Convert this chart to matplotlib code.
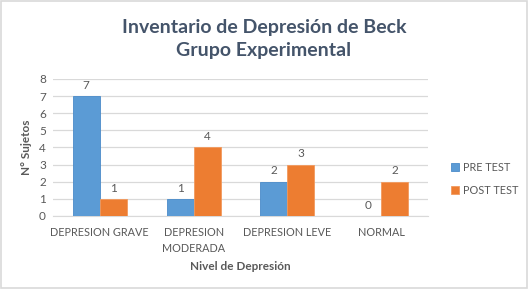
import numpy as np
import matplotlib.pyplot as plt
from matplotlib.patches import Rectangle

categories = ["DEPRESION GRAVE", "DEPRESION\nMODERADA", "DEPRESION LEVE", "NORMAL"]
pre_test = [7, 1, 2, 0]
post_test = [1, 4, 3, 2]
series_names = ["PRE TEST", "POST TEST"]

plt.rcParams["font.family"] = ["Lato", "DejaVu Sans"]

text_gray = "#595959"
title_col = "#44546A"
blue = "#5B9BD5"
orange = "#ED7D31"

fig = plt.figure(figsize=(5.28, 2.89), dpi=100)
fig.patches.append(Rectangle((0.002, 0.003), 0.996, 0.994, transform=fig.transFigure,
                             fill=False, edgecolor="#D9D9D9", linewidth=1.2))
ax = fig.add_axes([0.100, 0.253, 0.711, 0.474])

x = np.arange(len(categories))
w = 0.287
b1 = ax.bar(x - w / 2, pre_test, w, color=blue, edgecolor="#4A8BC9", linewidth=0.6,
            label=series_names[0], zorder=3)
b2 = ax.bar(x + w / 2, post_test, w, color=orange, edgecolor="#F29A5E", linewidth=0.6,
            label=series_names[1], zorder=3)

for bars in (b1, b2):
    for rect in bars:
        h = rect.get_height()
        ax.text(rect.get_x() + rect.get_width() / 2, h + 0.3, f"{int(h)}",
                ha="center", va="bottom", fontsize=8.5, color=text_gray)

ax.set_xlim(-0.5, len(categories) - 0.5)
ax.set_ylim(0, 8)
ax.set_yticks(range(0, 9))
ax.yaxis.grid(True, color="#D9D9D9", linewidth=0.9, zorder=0)
ax.set_axisbelow(True)
for s in ["top", "right", "left"]:
    ax.spines[s].set_visible(False)
ax.spines["bottom"].set_color("#D9D9D9")
ax.tick_params(axis="both", length=0, labelsize=8.5, colors=text_gray, pad=5)
ax.set_xticks(x)
ax.set_xticklabels(categories, linespacing=1.6, fontsize=7.8)
ax.tick_params(axis="x", pad=8)

ax.set_xlabel("Nivel de Depresión", fontsize=8.5, fontweight="bold", color=text_gray, labelpad=5)
ax.set_ylabel("N° Sujetos", fontsize=8.5, fontweight="bold", color=text_gray, labelpad=5)

fig.text(0.5, 0.865, "Inventario de Depresión de Beck\nGrupo Experimental", ha="center",
         va="center", fontsize=14, fontweight="bold", color=title_col, linespacing=1.45)

ax.legend(loc="center left", bbox_to_anchor=(1.035, 0.27), frameon=False, fontsize=7.8,
          labelcolor=text_gray, handlelength=0.7, handleheight=0.7, handletextpad=0.4,
          labelspacing=1.1)

fig.savefig("out.png", dpi=100)
